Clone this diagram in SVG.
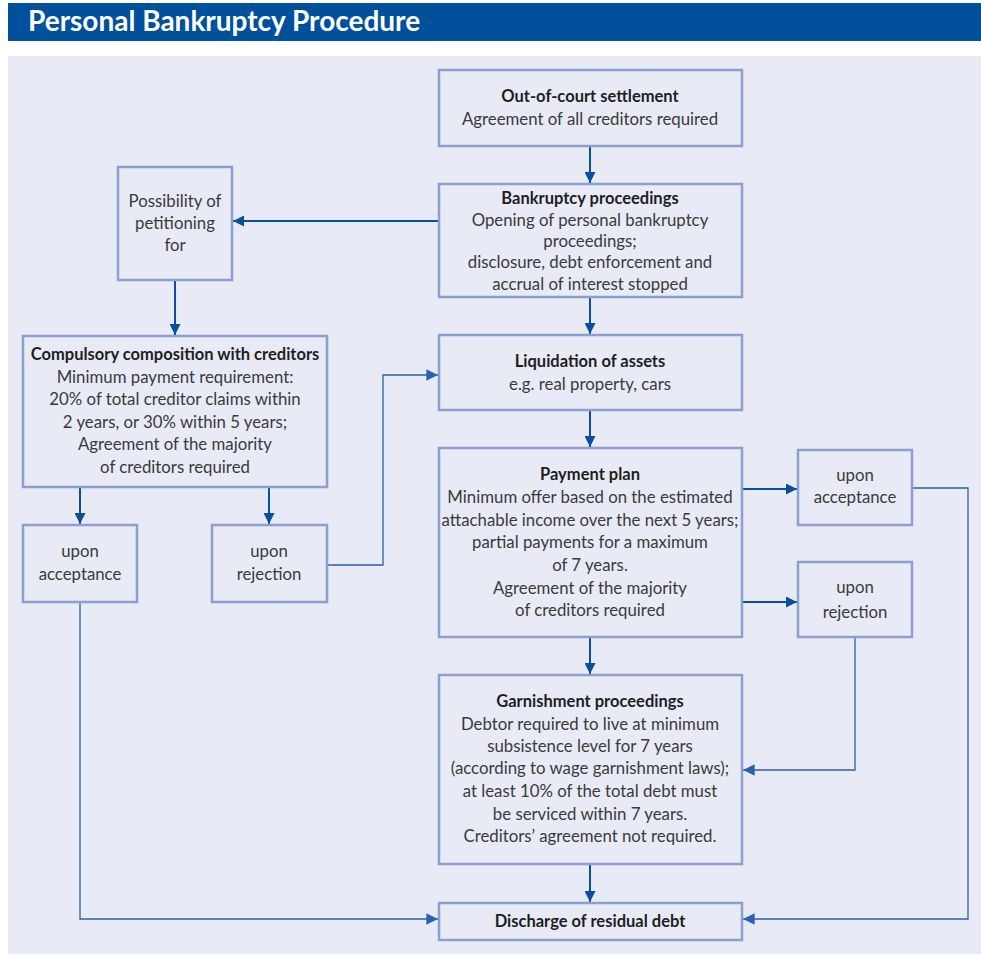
<svg xmlns="http://www.w3.org/2000/svg" width="981" height="954" viewBox="0 0 981 954">
<defs>
<style>
.box{fill:#e8ebf5;stroke:#8c9fd1;stroke-width:2.5}
.t{font-family:Lato,"Open Sans",sans-serif;font-size:16.8px;fill:#3a3a3a;text-anchor:middle}
.b{font-weight:bold;font-size:16.5px;fill:#1e1e1e}
.c{fill:none;stroke:#0a4f9e;stroke-width:2}
.c2{fill:none;stroke:#2a62ae;stroke-width:1.3}
</style>
<marker id="ah" viewBox="0 0 10 10" refX="10" refY="5" markerWidth="5.5" markerHeight="5.5" orient="auto" markerUnits="strokeWidth"><path d="M0,0L10,5L0,10z" fill="#0a4f9e"/></marker>
<marker id="ah2" viewBox="0 0 10 10" refX="10" refY="5" markerWidth="9" markerHeight="9" orient="auto" markerUnits="strokeWidth"><path d="M0,0L10,5L0,10z" fill="#2a62ae"/></marker>
</defs>
<rect x="8" y="3" width="973" height="38" fill="#00509b"/>
<text x="28" y="31" font-family="Lato,'Open Sans',sans-serif" font-size="28" font-weight="bold" fill="#ffffff">Personal Bankruptcy Procedure</text>
<rect x="8" y="56" width="973" height="898" fill="#e8ebf5"/>

<g id="connectors">
<path class="c" d="M590,146V183" marker-end="url(#ah)"/>
<path class="c" d="M439,221H233" marker-end="url(#ah)"/>
<path class="c" d="M175,280V335" marker-end="url(#ah)"/>
<path class="c" d="M590,297V334" marker-end="url(#ah)"/>
<path class="c" d="M590,410V447" marker-end="url(#ah)"/>
<path class="c" d="M80,487V524" marker-end="url(#ah)"/>
<path class="c" d="M269,487V524" marker-end="url(#ah)"/>
<path class="c" d="M742,489H797" marker-end="url(#ah)"/>
<path class="c" d="M742,602H797" marker-end="url(#ah)"/>
<path class="c" d="M590,637V674" marker-end="url(#ah)"/>
<path class="c" d="M590,864V902" marker-end="url(#ah)"/>
<path class="c2" d="M327,565H383V375H438" marker-end="url(#ah2)"/>
<path class="c2" d="M80,602V919H438" marker-end="url(#ah2)"/>
<path class="c2" d="M912,488H968V919H743" marker-end="url(#ah2)"/>
<path class="c2" d="M855,637V770H743" marker-end="url(#ah2)"/>
</g>

<g id="out-of-court">
<rect class="box" x="439" y="70" width="303" height="76"/>
<text class="t b" x="590" y="102">Out-of-court settlement</text>
<text class="t" x="590" y="125">Agreement of all creditors required</text>
</g>
<g id="bankruptcy">
<rect class="box" x="439" y="184" width="303" height="113"/>
<text class="t b" x="590" y="204">Bankruptcy proceedings</text>
<text class="t" x="590" y="226">Opening of personal bankruptcy</text>
<text class="t" x="590" y="247">proceedings;</text>
<text class="t" x="590" y="268">disclosure, debt enforcement and</text>
<text class="t" x="590" y="290">accrual of interest stopped</text>
</g>
<g id="possibility">
<rect class="box" x="118" y="167" width="114" height="113"/>
<text class="t" x="175" y="207">Possibility of</text>
<text class="t" x="175" y="229">petitioning</text>
<text class="t" x="175" y="251">for</text>
</g>
<g id="compulsory">
<rect class="box" x="23" y="336" width="304" height="151"/>
<text class="t b" x="175" y="360">Compulsory composition with creditors</text>
<text class="t" x="175" y="383">Minimum payment requirement:</text>
<text class="t" x="175" y="405">20% of total creditor claims within</text>
<text class="t" x="175" y="428">2 years, or 30% within 5 years;</text>
<text class="t" x="175" y="450">Agreement of the majority</text>
<text class="t" x="175" y="473">of creditors required</text>
</g>
<g id="liquidation">
<rect class="box" x="439" y="335" width="303" height="75"/>
<text class="t b" x="590" y="367">Liquidation of assets</text>
<text class="t" x="590" y="390">e.g. real property, cars</text>
</g>
<g id="payment-plan">
<rect class="box" x="439" y="448" width="303" height="189"/>
<text class="t b" x="590" y="480">Payment plan</text>
<text class="t" x="590" y="503">Minimum offer based on the estimated</text>
<text class="t" x="590" y="526">attachable income over the next 5 years;</text>
<text class="t" x="590" y="548">partial payments for a maximum</text>
<text class="t" x="590" y="571">of 7 years.</text>
<text class="t" x="590" y="594">Agreement of the majority</text>
<text class="t" x="590" y="616">of creditors required</text>
</g>
<g id="pp-acceptance">
<rect class="box" x="798" y="450" width="114" height="75"/>
<text class="t" x="855" y="481">upon</text>
<text class="t" x="855" y="503">acceptance</text>
</g>
<g id="pp-rejection">
<rect class="box" x="798" y="562" width="114" height="75"/>
<text class="t" x="855" y="593">upon</text>
<text class="t" x="855" y="618">rejection</text>
</g>
<g id="cc-acceptance">
<rect class="box" x="23" y="525" width="114" height="77"/>
<text class="t" x="80" y="557">upon</text>
<text class="t" x="80" y="580">acceptance</text>
</g>
<g id="cc-rejection">
<rect class="box" x="212" y="525" width="115" height="77"/>
<text class="t" x="269" y="557">upon</text>
<text class="t" x="269" y="580">rejection</text>
</g>
<g id="garnishment">
<rect class="box" x="439" y="675" width="303" height="189"/>
<text class="t b" x="590" y="707">Garnishment proceedings</text>
<text class="t" x="590" y="730">Debtor required to live at minimum</text>
<text class="t" x="590" y="752">subsistence level for 7 years</text>
<text class="t" x="590" y="774">(according to wage garnishment laws);</text>
<text class="t" x="590" y="797">at least 10% of the total debt must</text>
<text class="t" x="590" y="820">be serviced within 7 years.</text>
<text class="t" x="590" y="842">Creditors’ agreement not required.</text>
</g>
<g id="discharge">
<rect class="box" x="439" y="903" width="303" height="37"/>
<text class="t b" x="590" y="927">Discharge of residual debt</text>
</g>
</svg>
